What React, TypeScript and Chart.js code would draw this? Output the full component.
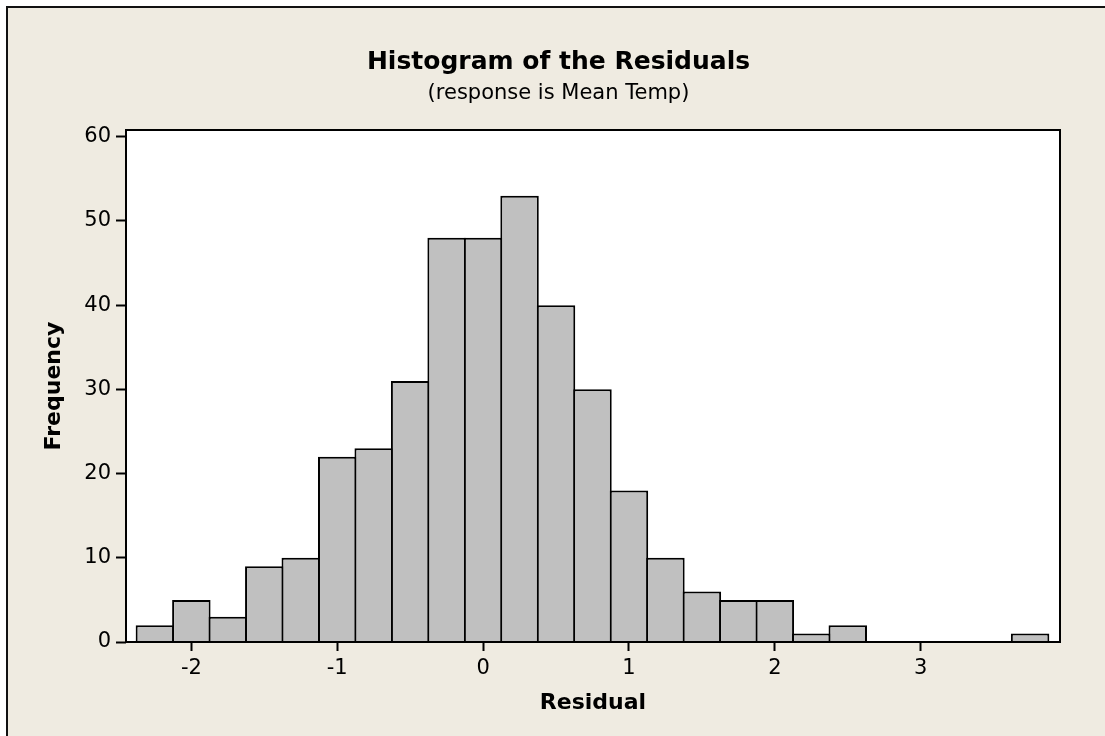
import React, { useEffect, useRef } from "react";
import { Chart, registerables } from "chart.js";

Chart.register(...registerables);

const TITLE = "Histogram of the Residuals";
const SUBTITLE = "(response is Mean Temp)";
const X_LABEL = "Residual";
const Y_LABEL = "Frequency";

// bin midpoints (width 0.25)
const binCenters = [
  -2.25, -2.0, -1.75, -1.5, -1.25, -1.0, -0.75, -0.5, -0.25, 0, 0.25, 0.5, 0.75,
  1.0, 1.25, 1.5, 1.75, 2.0, 2.25, 2.5, 2.75, 3.0, 3.25, 3.5, 3.75,
];
const frequencies = [
  2, 5, 3, 9, 10, 22, 23, 31, 48, 48, 53, 40, 30, 18, 10, 6, 5, 5, 1, 2, 0, 0, 0, 0, 1,
];
const xTicks = [-2, -1, 0, 1, 2, 3];
const yTicks = [0, 10, 20, 30, 40, 50, 60];

const FONT = "'DejaVu Sans', Verdana, sans-serif";

export default function App() {
  const ref = useRef<HTMLCanvasElement | null>(null);

  useEffect(() => {
    if (!ref.current) return;
    const framePlugin = {
      id: "frame",
      beforeDatasetsDraw(chart: any) {
        const { ctx, chartArea: a } = chart;
        ctx.save();
        ctx.fillStyle = "#ffffff";
        ctx.fillRect(a.left, a.top, a.right - a.left, a.bottom - a.top);
        ctx.restore();
      },
      afterDatasetsDraw(chart: any) {
        const { ctx, chartArea: a } = chart;
        ctx.save();
        ctx.strokeStyle = "#000";
        ctx.lineWidth = 2;
        ctx.strokeRect(a.left, a.top, a.right - a.left, a.bottom - a.top);
        ctx.restore();
      },
      afterDraw(chart: any) {
        const { ctx } = chart;
        ctx.save();
        ctx.fillStyle = "#000";
        ctx.textAlign = "center";
        ctx.textBaseline = "alphabetic";
        ctx.font = `bold 25px ${FONT}`;
        ctx.fillText(TITLE, 558.5, 69);
        ctx.font = `21px ${FONT}`;
        ctx.fillText(SUBTITLE, 558.5, 99);
        ctx.restore();
      },
    };

    const chart = new Chart(ref.current, {
      type: "bar",
      data: {
        datasets: [
          {
            data: binCenters.map((x, i) => ({ x, y: frequencies[i] })),
            backgroundColor: "#C0C0C0",
            borderColor: "#000000",
            borderWidth: 2,
            borderSkipped: "start",
            barPercentage: 1.055,
            categoryPercentage: 1,
          },
        ],
      },
      options: {
        responsive: false,
        animation: false,
        events: [],
        layout: { padding: { top: 130, right: 45, bottom: 0, left: 0 } },
        plugins: {
          legend: { display: false },
          tooltip: { enabled: false },
          title: { display: false },
        },
        scales: {
          x: {
            type: "linear",
            offset: false,
            min: -2.448,
            max: 3.955,
            afterFit(scale: any) {
              scale.height = 94;
            },
            afterBuildTicks(scale: any) {
              scale.ticks = xTicks.map((v) => ({ value: v }));
            },
            ticks: {
              includeBounds: false,
              stepSize: 1,
              padding: 5,
              color: "#000",
              font: { family: FONT, size: 21 },
            },
            grid: {
              offset: false,
              drawOnChartArea: false,
              drawTicks: true,
              tickLength: 9,
              tickColor: "#000",
              tickWidth: 2,
            },
            border: { display: false },
            title: {
              display: true,
              text: X_LABEL,
              color: "#000",
              font: { family: FONT, size: 22, weight: "bold" },
              padding: { top: 0, bottom: 20 },
            },
          },
          y: {
            type: "linear",
            min: 0,
            max: 60.8,
            afterFit(scale: any) {
              scale.width = 126;
            },
            afterBuildTicks(scale: any) {
              scale.ticks = yTicks.map((v) => ({ value: v }));
            },
            ticks: {
              includeBounds: false,
              stepSize: 10,
              padding: 5,
              color: "#000",
              font: { family: FONT, size: 21 },
            },
            grid: {
              offset: false,
              drawOnChartArea: false,
              drawTicks: true,
              tickLength: 10,
              tickColor: "#000",
              tickWidth: 2,
            },
            border: { display: false },
            title: {
              display: true,
              text: Y_LABEL,
              color: "#000",
              font: { family: FONT, size: 22, weight: "bold" },
              padding: { top: 41, bottom: 0 },
            },
          },
        },
      },
      plugins: [framePlugin],
    } as any);
    return () => chart.destroy();
  }, []);

  return (
    <div
      style={{
        position: "fixed",
        left: 0,
        top: 0,
        width: 1105,
        height: 736,
        background: "#ffffff",
        overflow: "hidden",
      }}
    >
      <div
        style={{
          position: "absolute",
          left: 6,
          top: 6,
          width: 1105,
          height: 736,
          background: "#EFEBE1",
          borderLeft: "2px solid #111",
          borderTop: "2px solid #111",
        }}
      />
      <canvas
        ref={ref}
        width={1105}
        height={736}
        style={{ position: "absolute", left: 0, top: 0, width: 1105, height: 736 }}
      />
    </div>
  );
}
